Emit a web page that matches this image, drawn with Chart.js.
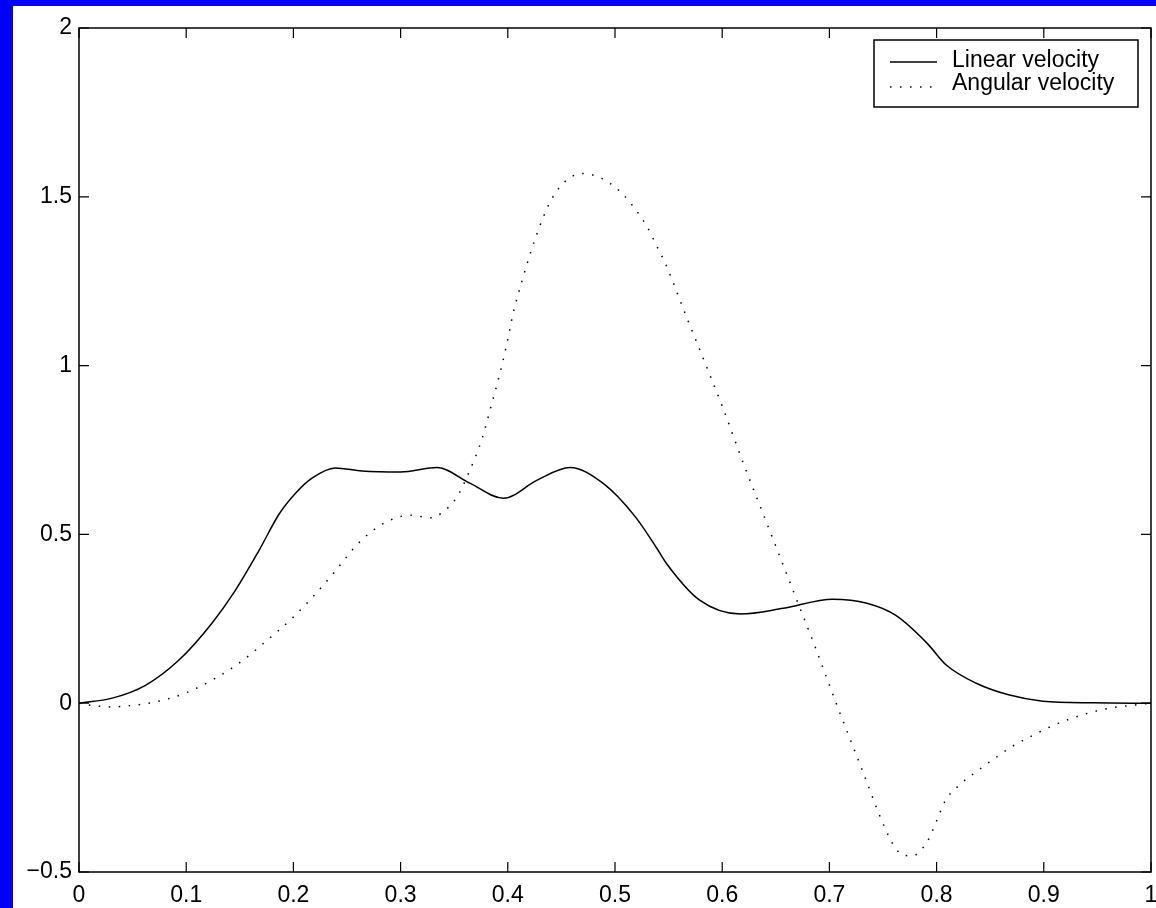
<!DOCTYPE html>
<html>
<head>
<meta charset="utf-8">
<script src="https://cdn.jsdelivr.net/npm/chart.js@4"></script>
<style>
  html, body { margin: 0; padding: 0; background: #0000ff; overflow: hidden; }
  #wrap { position: absolute; left: 13px; top: 6px; width: 1143px; height: 902px; background: #fff; overflow: hidden; }
  canvas { display: block; }
</style>
</head>
<body>
<div id="wrap"><canvas id="velChart" width="1158" height="902"></canvas></div>
<script>
// Linear velocity (solid)
const linearX = [0, 0.031, 0.062, 0.093, 0.124, 0.146, 0.168, 0.187, 0.202, 0.217, 0.239, 0.264, 0.300,
  0.334, 0.365, 0.396, 0.427, 0.458, 0.489, 0.519, 0.539, 0.548, 0.579, 0.617, 0.657, 0.703, 0.735,
  0.762, 0.791, 0.809, 0.837, 0.868, 0.899, 0.946, 1];
const linearY = [0, 0.015, 0.053, 0.127, 0.237, 0.335, 0.453, 0.562, 0.622, 0.666, 0.697, 0.688, 0.685,
  0.698, 0.651, 0.607, 0.660, 0.698, 0.651, 0.552, 0.459, 0.414, 0.305, 0.264, 0.281, 0.308, 0.296,
  0.260, 0.178, 0.113, 0.059, 0.024, 0.006, 0.001, 0];

// Angular velocity (dotted)
const angularX = [0, 0.011, 0.031, 0.051, 0.072, 0.100, 0.128, 0.152, 0.175, 0.198, 0.219, 0.239, 0.258,
  0.273, 0.290, 0.309, 0.329, 0.338, 0.352, 0.365, 0.376, 0.384, 0.392, 0.399, 0.405, 0.413, 0.422,
  0.432, 0.440, 0.452, 0.469, 0.488, 0.505, 0.519, 0.530, 0.539, 0.548, 0.566, 0.585, 0.600, 0.621,
  0.643, 0.665, 0.687, 0.708, 0.730, 0.752, 0.762, 0.769, 0.778, 0.786, 0.792, 0.800, 0.808, 0.821,
  0.837, 0.853, 0.870, 0.887, 0.906, 0.924, 0.943, 0.963, 0.983, 1];
const angularY = [0, -0.006, -0.011, -0.006, 0.004, 0.031, 0.075, 0.125, 0.185, 0.249, 0.318, 0.391, 0.465,
  0.509, 0.542, 0.557, 0.549, 0.563, 0.608, 0.693, 0.784, 0.875, 0.969, 1.063, 1.155, 1.248, 1.342,
  1.431, 1.488, 1.541, 1.569, 1.554, 1.515, 1.463, 1.411, 1.354, 1.295, 1.150, 1.000, 0.880, 0.700,
  0.522, 0.343, 0.164, -0.014, -0.193, -0.371, -0.431, -0.450, -0.452, -0.433, -0.406, -0.349, -0.289, -0.243,
  -0.203, -0.166, -0.129, -0.100, -0.070, -0.047, -0.028, -0.014, -0.006, 0];

const xTickValues = [0, 0.1, 0.2, 0.3, 0.4, 0.5, 0.6, 0.7, 0.8, 0.9, 1];
const xTickLabels = ['0', '0.1', '0.2', '0.3', '0.4', '0.5', '0.6', '0.7', '0.8', '0.9', '1'];
const yTickValues = [-0.5, 0, 0.5, 1, 1.5, 2];
const yTickLabels = ['\u22120.5', '0', '0.5', '1', '1.5', '2'];

const FONT = "'Liberation Sans', Arial, Helvetica, sans-serif";

const toPoints = (xs, ys) => xs.map((x, i) => ({ x: x, y: ys[i] }));

// box frame with inward tick marks on all four sides, plus the legend
const framePlugin = {
  id: 'frame',
  afterDatasetsDraw(chart) {
    const { ctx, chartArea: a, scales } = chart;
    ctx.save();
    ctx.strokeStyle = '#000';
    ctx.lineWidth = 1.5;
    ctx.strokeRect(a.left, a.top, a.right - a.left, a.bottom - a.top);
    ctx.beginPath();
    xTickValues.forEach(v => {
      const px = scales.x.getPixelForValue(v);
      ctx.moveTo(px, a.bottom); ctx.lineTo(px, a.bottom - 10);
      ctx.moveTo(px, a.top); ctx.lineTo(px, a.top + 10);
    });
    yTickValues.forEach(v => {
      const py = scales.y.getPixelForValue(v);
      ctx.moveTo(a.left, py); ctx.lineTo(a.left + 10, py);
      ctx.moveTo(a.right, py); ctx.lineTo(a.right - 10, py);
    });
    ctx.lineWidth = 1.2;
    ctx.stroke();

    // legend
    const w = 264, h = 67;
    const left = a.right - 13 - w, top = a.top + 12;
    ctx.fillStyle = '#fff';
    ctx.fillRect(left, top, w, h);
    ctx.lineWidth = 1.5;
    ctx.strokeRect(left, top, w, h);
    const rows = [{ line: 22, text: 27 }, { line: 47, text: 50 }];
    chart.data.datasets.forEach((ds, i) => {
      const r = rows[i];
      ctx.beginPath();
      ctx.setLineDash(ds.borderDash || []);
      ctx.lineWidth = ds.borderWidth;
      ctx.strokeStyle = ds.borderColor;
      ctx.moveTo(left + 16, top + r.line);
      ctx.lineTo(left + 63, top + r.line);
      ctx.stroke();
      ctx.setLineDash([]);
      ctx.fillStyle = '#000';
      ctx.font = '23px ' + FONT;
      ctx.textBaseline = 'alphabetic';
      ctx.textAlign = 'left';
      ctx.fillText(ds.label, left + 78, top + r.text);
    });
    ctx.restore();
  }
};

new Chart(document.getElementById('velChart'), {
  type: 'line',
  data: {
    datasets: [{
      label: 'Linear velocity',
      data: toPoints(linearX, linearY),
      borderColor: '#000',
      borderWidth: 1.5,
      pointRadius: 0,
      cubicInterpolationMode: 'monotone',
      fill: false
    }, {
      label: 'Angular velocity',
      data: toPoints(angularX, angularY),
      borderColor: '#000',
      borderWidth: 1.5,
      borderDash: [1.5, 8.5],
      pointRadius: 0,
      cubicInterpolationMode: 'monotone',
      fill: false
    }]
  },
  options: {
    responsive: false,
    animation: false,
    layout: { padding: { top: 22, right: 20, left: 0, bottom: 0 } },
    plugins: { legend: { display: false }, tooltip: { enabled: false } },
    scales: {
      x: {
        type: 'linear', min: 0, max: 1,
        grid: { display: false, drawTicks: false },
        border: { display: false },
        afterBuildTicks: s => { s.ticks = xTickValues.map(v => ({ value: v })); },
        afterFit: s => { s.height = 36; },
        ticks: {
          autoSkip: false, maxRotation: 0, padding: 10,
          color: '#000', font: { family: FONT, size: 23 },
          callback: (v, i) => xTickLabels[i]
        }
      },
      y: {
        type: 'linear', min: -0.5, max: 2,
        grid: { display: false, drawTicks: false },
        border: { display: false },
        afterBuildTicks: s => { s.ticks = yTickValues.map(v => ({ value: v })); },
        afterFit: s => { s.width = 66; },
        ticks: {
          autoSkip: false, padding: 7,
          color: '#000', font: { family: FONT, size: 23 },
          callback: (v, i) => yTickLabels[i]
        }
      }
    }
  },
  plugins: [framePlugin]
});
</script>
</body>
</html>
